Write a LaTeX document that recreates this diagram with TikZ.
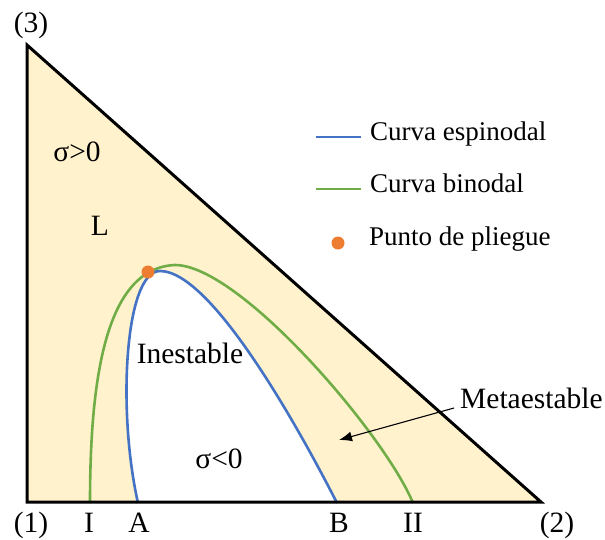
\documentclass[tikz,border=0pt]{standalone}
\usepackage{fontspec}
\setmainfont{Liberation Serif}
\usetikzlibrary{arrows.meta}
\definecolor{beige}{HTML}{FFF2CC}
\definecolor{spblue}{HTML}{4472C4}
\definecolor{bigreen}{HTML}{70AD47}
\definecolor{foldor}{HTML}{ED7D31}
\begin{document}
\begin{tikzpicture}[x=1pt,y=-1pt,
  lbl/.style={font=\fontsize{29.5}{34}\selectfont, inner sep=0pt, anchor=base},
  leg/.style={font=\fontsize{27}{32}\selectfont, inner sep=0pt, anchor=base west},
  spin/.style={spblue, line width=2.6pt},
  bino/.style={bigreen, line width=2.6pt},
  tri/.style={line width=3pt, line join=miter},
  fold/.style={circle, fill=foldor, minimum size=13pt, inner sep=0pt},
  pointer/.style={line width=1.1pt, -{Latex[length=13pt,width=10pt]}}]
\useasboundingbox (0,0) rectangle (605,539);
\coordinate (v1) at (27,502);
\coordinate (v2) at (541,502);
\coordinate (v3) at (27,45);
\fill[beige] (v1) -- (v2) -- (v3) -- cycle;
% curve points
\coordinate (cA) at (138,503);
\coordinate (cB) at (337,503);
\coordinate (sp) at (160,271);
\coordinate (cI) at (90,503);
\coordinate (cII) at (413,503);
\coordinate (bp) at (175,265);
% unstable region
\fill[white] (cA) .. controls (117,410) and (125,271) .. (sp)
  .. controls (215,271) and (310,450) .. (cB) -- cycle;
% binodal
\draw[bino] (cI) .. controls (90,380) and (105,268) .. (bp)
  .. controls (240,265) and (385,435) .. (cII);
% spinodal
\draw[spin] (cA) .. controls (117,410) and (125,271) .. (sp)
  .. controls (215,271) and (310,450) .. (cB);
\draw[tri] (v1) -- (v2) -- (v3) -- cycle;
\node[fold] (pf) at (148,272) {};
% labels
\node[lbl] (n3) at (31,32) {(3)};
\node[lbl] (n1) at (31,532) {(1)};
\node[lbl] (nI) at (89,532) {I};
\node[lbl] (nA) at (139,532) {A};
\node[lbl] (nB) at (339,532) {B};
\node[lbl] (nII) at (413,532) {II};
\node[lbl] (n2) at (557,532) {(2)};
\node[lbl] (sgp) at (77,161) {σ>0};
\node[lbl] (L) at (100,235) {L};
\node[lbl] (ine) at (190,363) {Inestable};
\node[lbl] (sgn) at (219,468) {σ<0};
\node[lbl, anchor=base west] (meta) at (460,408) {Metaestable};
\coordinate (tip) at (339,440);
\draw[pointer] ([xshift=-6pt]meta.base west) -- (tip);
% legend
\coordinate (lb1) at (316,137);
\coordinate (lb2) at (361,137);
\coordinate (lg1) at (316,189);
\coordinate (lg2) at (361,189);
\draw[spin] (lb1) -- (lb2);
\draw[bino] (lg1) -- (lg2);
\node[fold] (ldot) at (338,243) {};
\node[leg] (t1) at (370,140) {Curva espinodal};
\node[leg] (t2) at (370,192) {Curva binodal};
\node[leg] (t3) at (369,245) {Punto de pliegue};
\end{tikzpicture}
\end{document}
